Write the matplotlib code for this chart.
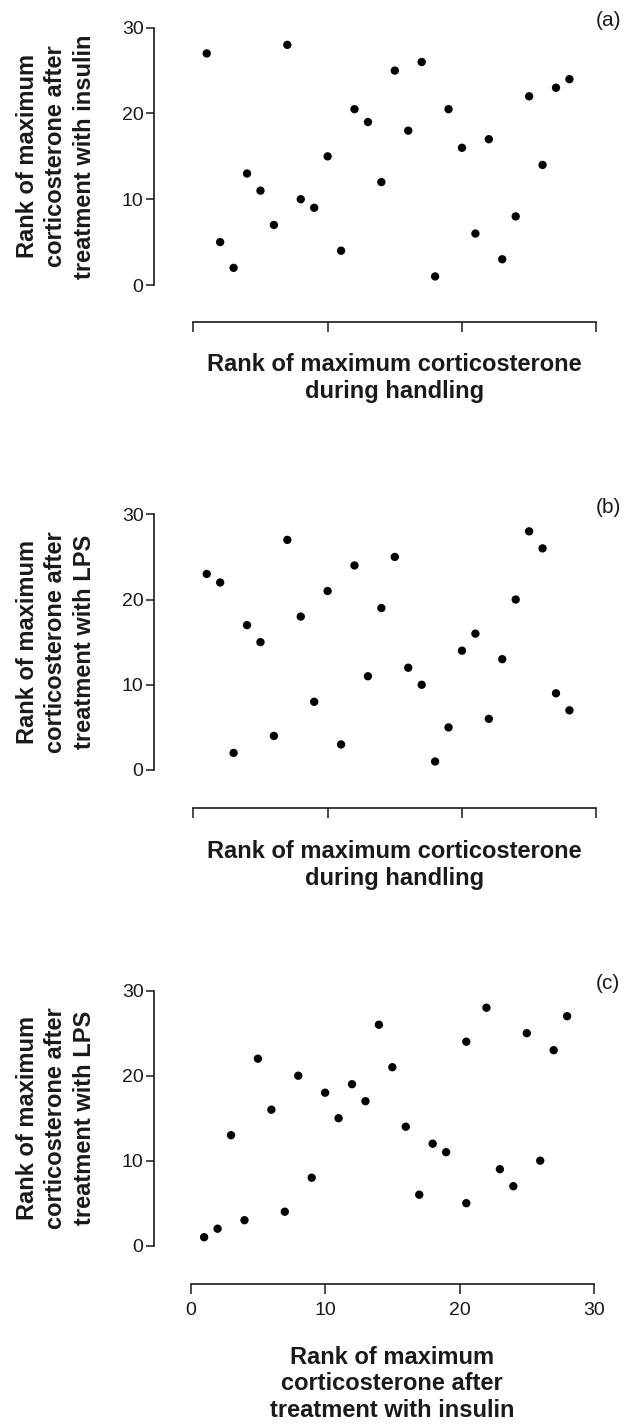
import matplotlib
matplotlib.use("Agg")
import matplotlib.pyplot as plt

plt.rcParams['font.family'] = ['Liberation Sans', 'DejaVu Sans']

# panel (a): handling vs insulin
rank_handling = [1, 2, 3, 4, 5, 6, 7, 8, 9, 10, 11, 12, 13, 14,
                 15, 16, 17, 18, 19, 20, 21, 22, 23, 24, 25, 26, 27, 28]
rank_insulin_a = [27, 5, 2, 13, 11, 7, 28, 10, 9, 15, 4, 20.5, 19, 12,
                  25, 18, 26, 1, 20.5, 16, 6, 17, 3, 8, 22, 14, 23, 24]

# panel (b): handling vs LPS
rank_lps_b = [23, 22, 2, 17, 15, 4, 27, 18, 8, 21, 3, 24, 11, 19,
              25, 12, 10, 1, 5, 14, 16, 6, 13, 20, 28, 26, 9, 7]

# panel (c): insulin vs LPS
rank_insulin_c = [1, 2, 3, 4, 5, 6, 7, 8, 9, 10, 11, 12, 13, 14,
                  15, 16, 17, 18, 19, 20.5, 20.5, 22, 23, 24, 25, 26, 27, 28]
rank_lps_c = [1, 2, 13, 3, 22, 16, 4, 20, 8, 18, 15, 19, 17, 26,
              21, 14, 6, 12, 11, 24, 5, 28, 9, 7, 25, 10, 23, 27]

ticks = [0, 10, 20, 30]
ylab_insulin = "Rank of maximum\ncorticosterone after\ntreatment with insulin"
ylab_lps = "Rank of maximum\ncorticosterone after\ntreatment with LPS"
xlab_handling = "Rank of maximum corticosterone\nduring handling"
xlab_insulin = "Rank of maximum\ncorticosterone after\ntreatment with insulin"

W, H = 627, 1425
fig = plt.figure(figsize=(W / 100, H / 100), dpi=100)

ink = '#1a1a1a'


def panel(x, y, box, tag, ylab, xlab, xlab_y, show_xticklabels):
    # box = (spine x, x at 0, x at 30, y at 30, y at 0, x-spine y) in pixels
    sx, x0, x30, y30, y0, by = box
    ax = fig.add_axes([sx / W, 1 - by / H, (x30 - sx) / W, (by - y30) / H])
    xs = (x30 - x0) / 30.0
    ys = (y0 - y30) / 30.0
    ax.set_xlim(-(x0 - sx) / xs, 30)
    ax.set_ylim(-(by - y0) / ys, 30)
    ax.scatter(x, y, s=36, color='black', edgecolors='none', clip_on=False, zorder=3)
    for side in ['top', 'right']:
        ax.spines[side].set_visible(False)
    for side in ['left', 'bottom']:
        ax.spines[side].set_bounds(0, 30)
        ax.spines[side].set_linewidth(1.2)
        ax.spines[side].set_color(ink)
    ax.set_xticks(ticks)
    ax.set_yticks(ticks)
    ax.tick_params(axis='y', length=6, width=1.1, color=ink, pad=1.5,
                   labelsize=14, labelcolor=ink)
    ax.tick_params(axis='x', length=7, width=1.1, color=ink, pad=6,
                   labelsize=14, labelcolor=ink, labelbottom=show_xticklabels)
    fig.text(596 / W, 1 - (y30 - 7) / H, tag, fontsize=15, color=ink,
             ha='left', va='center')
    fig.text(56 / W, 1 - ((y30 + y0) / 2) / H, ylab, rotation=90,
             fontsize=17, fontweight='bold', color=ink, ha='center', va='center',
             multialignment='center', linespacing=1.3)
    fig.text(((x0 + x30) / 2) / W, 1 - xlab_y / H, xlab, fontsize=17,
             fontweight='bold', color=ink, ha='center', va='center',
             multialignment='center', linespacing=1.22)
    return ax


panel(rank_handling, rank_insulin_a, (154, 193.3, 596.3, 27.7, 285, 321.7),
      "(a)", ylab_insulin, xlab_handling, 378, False)
panel(rank_handling, rank_lps_b, (154, 193.3, 596.3, 514.3, 770, 807.7),
      "(b)", ylab_lps, xlab_handling, 865, False)
panel(rank_insulin_c, rank_lps_c, (154, 190.7, 594, 990.7, 1245.7, 1284),
      "(c)", ylab_lps, xlab_insulin, 1384, True)

fig.savefig("out.png", dpi=100)
